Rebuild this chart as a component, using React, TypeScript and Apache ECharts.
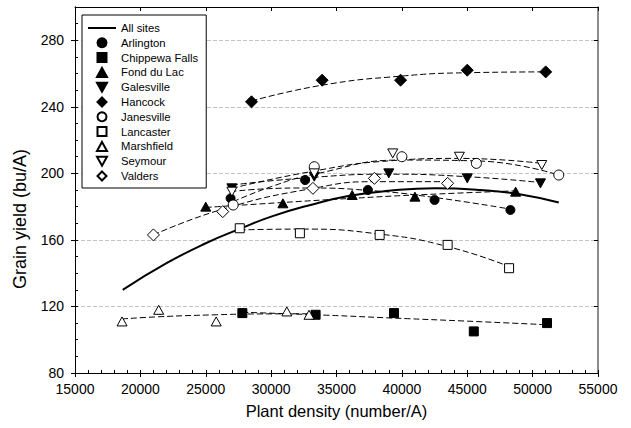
import React, { useEffect, useRef } from "react";
import * as echarts from "echarts";

const siteNames = [
  "Arlington",
  "Chippewa Falls",
  "Fond du Lac",
  "Galesville",
  "Hancock",
  "Janesville",
  "Lancaster",
  "Marshfield",
  "Seymour",
  "Valders",
];

const yTicks = [80, 120, 160, 200, 240, 280];
const xTicks = [15000, 20000, 25000, 30000, 35000, 40000, 45000, 50000, 55000];

// observed points [density, yield]
const arlingtonPts = [[26900, 185], [32600, 196], [37400, 190], [42500, 184], [48300, 178]];
const chippewaPts = [[27800, 116], [33400, 115], [39400, 116], [45500, 105], [51100, 110]];
const fondPts = [[25000, 180], [30900, 182], [36200, 187], [41000, 186], [48700, 189]];
const galesPts = [[27000, 191], [33300, 198], [39000, 200], [45000, 197], [50600, 194]];
const hancockPts = [[28500, 243], [33900, 256], [39900, 256], [45000, 262], [51000, 261]];
const janesPts = [[27100, 181], [33300, 204], [40000, 210], [45700, 206], [52000, 199]];
const lancPts = [[27600, 167], [32200, 164], [38300, 163], [43500, 157], [48200, 143]];
const marshPts = [[18600, 111], [21400, 118], [25800, 111], [31200, 117], [32900, 115]];
const seymourPts = [[27000, 189], [33300, 200], [39300, 212], [44400, 210], [50700, 205]];
const valdersPts = [[21000, 163], [26300, 177], [33200, 191], [37900, 197], [43500, 194]];

// fitted curves
const arlingtonFit = [[26900, 189], [29800, 190.8], [32600, 191.2], [37400, 189.8], [42500, 185.5], [48300, 178.5]];
const chippewaFit = [[27800, 116.5], [33400, 115], [39400, 113], [45500, 111], [51100, 109]];
const fondFit = [[25000, 179.5], [30900, 182.5], [36200, 185], [41000, 187], [48700, 189.5]];
const galesFit = [[27000, 193], [33000, 197.5], [39000, 199.5], [45000, 198], [50600, 194.5]];
const hancockFit = [[28500, 243.5], [33900, 253], [40000, 258.5], [45000, 260.5], [51000, 261]];
const janesFit = [[27100, 183], [30000, 192], [33300, 199.5], [40000, 208], [45700, 207.5], [52000, 199]];
const lancFit = [[27600, 166], [32200, 166.5], [38300, 163.5], [43500, 156], [48200, 144]];
const marshFit = [[18600, 112.5], [21400, 113.8], [25800, 115], [29000, 115.5], [32900, 115.6]];
const seymourFit = [[27000, 191], [33000, 201], [39000, 207.5], [44400, 209], [50700, 206]];
const valdersFit = [[21000, 163], [26300, 178.5], [33200, 191], [37900, 195], [43500, 195]];
const allSitesFit = [
  [18650, 130], [22000, 146], [25000, 158], [27600, 166.6], [30000, 174], [33000, 181],
  [36000, 186.5], [39000, 189.5], [42500, 191], [46000, 190], [49000, 187.5], [52000, 182.5],
];

const downTri = "path://M0,0 L10,0 L5,9 Z";
const upTri = "path://M5,0 L10,9 L0,9 Z";
const square = "path://M0,0 L10,0 L10,10 L0,10 Z";
const diamond = "path://M5,0 L10,5 L5,10 L0,5 Z";

const siteStyles = [
  { pts: arlingtonPts, fit: arlingtonFit, symbol: "circle", size: 9, filled: true },
  { pts: chippewaPts, fit: chippewaFit, symbol: square, size: 9, filled: true },
  { pts: fondPts, fit: fondFit, symbol: upTri, size: 10, filled: true },
  { pts: galesPts, fit: galesFit, symbol: downTri, size: 10, filled: true },
  { pts: hancockPts, fit: hancockFit, symbol: diamond, size: 12, filled: true },
  { pts: janesPts, fit: janesFit, symbol: "circle", size: 10, filled: false },
  { pts: lancPts, fit: lancFit, symbol: square, size: 9, filled: false },
  { pts: marshPts, fit: marshFit, symbol: upTri, size: 10, filled: false },
  { pts: seymourPts, fit: seymourFit, symbol: downTri, size: 10, filled: false },
  { pts: valdersPts, fit: valdersFit, symbol: diamond, size: 12, filled: false },
];

const FONT = "'Liberation Sans', Arial, sans-serif";

export default function App() {
  const ref = useRef<HTMLDivElement>(null);
  useEffect(() => {
    document.body.style.margin = "0";
    const chart = echarts.init(ref.current!, null, { renderer: "svg" });
    const gridRect = { left: 75, right: 33, top: 7, bottom: 55 };
    const series: any[] = [];
    siteStyles.forEach((s, i) => {
      series.push({
        name: siteNames[i] + " fit",
        type: "line",
        xAxisIndex: 0,
        yAxisIndex: 0,
        data: s.fit,
        smooth: 0.5,
        symbol: "none",
        lineStyle: { color: "#000", width: 1, type: [6, 3] },
        z: 2,
        silent: true,
      });
    });
    series.push({
      name: "All sites",
      type: "line",
      xAxisIndex: 0,
      yAxisIndex: 0,
      data: allSitesFit,
      smooth: 0.5,
      symbol: "none",
      lineStyle: { color: "#000", width: 2 },
      itemStyle: { color: "#000" },
      z: 3,
    });
    siteStyles.forEach((s, i) => {
      series.push({
        name: siteNames[i],
        type: "scatter",
        xAxisIndex: 0,
        yAxisIndex: 0,
        data: s.pts,
        symbol: s.symbol,
        symbolSize: s.size,
        symbolKeepAspect: true,
        itemStyle: {
          color: s.filled ? "#000" : "#fff",
          borderColor: "#000",
          borderWidth: 1,
          opacity: 1,
        },
        z: 4,
      });
    });

    const axisLabelStyle = { color: "#000", fontFamily: FONT, fontSize: 14 };
    chart.setOption({
      animation: false,
      backgroundColor: "#fff",
      grid: [{ ...gridRect }, { ...gridRect }],
      legend: {
        data: [
          {
            name: "All sites",
            itemStyle: { color: "rgba(0,0,0,0)", borderColor: "rgba(0,0,0,0)", borderWidth: 0 },
          },
          ...siteNames,
        ],
        orient: "vertical",
        left: 82,
        top: 15,
        padding: [7, 8, 6, 5],
        itemWidth: 28,
        itemHeight: 9,
        itemGap: 2.8,
        backgroundColor: "#fff",
        borderColor: "#000",
        borderWidth: 1,
        borderRadius: 0,
        textStyle: { color: "#000", fontFamily: FONT, fontSize: 11.3, lineHeight: 12 },
        selectedMode: false,
        z: 10,
      },
      xAxis: [
        {
          gridIndex: 0,
          type: "value",
          position: "bottom",
          min: xTicks[0],
          max: xTicks[xTicks.length - 1],
          interval: 5000,
          name: "Plant density (number/A)",
          nameLocation: "middle",
          nameGap: 29,
          nameTextStyle: { color: "#000", fontFamily: FONT, fontSize: 16.5 },
          axisLine: { show: true, lineStyle: { color: "#000", width: 1 } },
          axisTick: { show: true, inside: false, length: 4, lineStyle: { color: "#000" } },
          axisLabel: { ...axisLabelStyle, margin: 9, formatter: (v: number) => String(v) },
          splitLine: { show: false },
        },
        {
          gridIndex: 0,
          type: "value",
          position: "top",
          min: xTicks[0],
          max: xTicks[xTicks.length - 1],
          interval: 5000,
          axisLine: { show: true, lineStyle: { color: "#000", width: 1 } },
          axisTick: { show: true, inside: true, length: 4, lineStyle: { color: "#000" } },
          axisLabel: { show: false },
          splitLine: { show: false },
        },
        {
          gridIndex: 1,
          type: "value",
          position: "bottom",
          min: xTicks[0],
          max: xTicks[xTicks.length - 1],
          interval: 1000,
          axisLine: { show: true, lineStyle: { color: "#000", width: 1 } },
          axisTick: { show: true, inside: true, length: 3, lineStyle: { color: "#000" } },
          axisLabel: { show: false },
          splitLine: { show: false },
        },
      ],
      yAxis: [
        {
          gridIndex: 0,
          type: "value",
          position: "left",
          min: yTicks[0],
          max: 300,
          interval: 40,
          name: "Grain yield (bu/A)",
          nameLocation: "middle",
          nameGap: 46,
          nameTextStyle: { color: "#000", fontFamily: FONT, fontSize: 18, padding: [0, 58, 0, 0] },
          axisLine: { show: true, lineStyle: { color: "#000", width: 1 } },
          axisTick: { show: true, inside: false, length: 4, lineStyle: { color: "#000" } },
          axisLabel: { ...axisLabelStyle, margin: 11, showMaxLabel: false },
          splitLine: {
            show: true,
            lineStyle: { color: "#c4c4c4", width: 1, type: [4, 2] },
          },
        },
        {
          gridIndex: 0,
          type: "value",
          position: "right",
          min: yTicks[0],
          max: 300,
          interval: 40,
          axisLine: { show: true, lineStyle: { color: "#666", width: 1.5 } },
          axisTick: { show: true, inside: true, length: 4, lineStyle: { color: "#000" } },
          axisLabel: { show: false },
          splitLine: { show: false },
        },
        {
          gridIndex: 1,
          type: "value",
          position: "left",
          min: yTicks[0],
          max: 300,
          interval: 10,
          axisLine: { show: true, lineStyle: { color: "#000", width: 1 } },
          axisTick: { show: true, inside: true, length: 3, lineStyle: { color: "#000" } },
          axisLabel: { show: false },
          splitLine: { show: false },
        },
      ],
      series,
    });
    return () => chart.dispose();
  }, []);
  return <div ref={ref} style={{ width: 631, height: 428 }} />;
}
